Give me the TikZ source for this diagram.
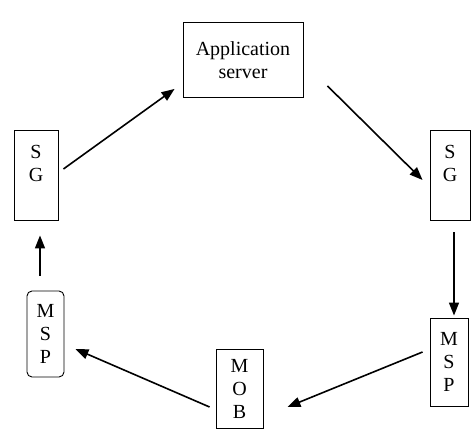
\documentclass[tikz,border=0pt]{standalone}
\usepackage{fontspec}
\setmainfont{Liberation Serif}
\usetikzlibrary{
    arrows.meta,
    positioning
}

\begin{document}
\begin{tikzpicture}[x=1pt,y=1pt,
    box/.style={draw,line width=0.9pt,align=center,inner sep=0pt,
        font=\fontsize{20}{23}\selectfont},
    roundbox/.style={box,rounded corners=5pt},
    arr/.style={line width=1.6pt,-{Triangle[length=13pt,width=10pt]}}]
    \useasboundingbox (0,0) rectangle (473,438);

    \node[box,minimum width=120,minimum height=75] (as) at (243,378) {Application\\server};

    \node[box,minimum width=44,minimum height=90] (sgl) at (36,263) {S\\G\\\mbox{}};
    \node[box,minimum width=40,minimum height=90] (sgr) at (450,263) {S\\G\\\mbox{}};

    \node[box,minimum width=38,minimum height=88] (mspr) at (449,76) {M\\S\\P};
    \node[box,minimum width=47,minimum height=79] (mob) at (239.5,49.5) {M\\O\\B};
    \node[roundbox,minimum width=37,minimum height=86] (mspl) at (45.5,104) {M\\S\\P};

    \draw[arr] ([shift={(5,6)}]sgl.east) -- ([shift={(-8,9)}]as.south west);
    \draw[arr] ([shift={(24,12)}]as.south east) -- ([shift={(-7,-5)}]sgr.west);
    \draw[arr] ([shift={(4,-12)}]sgr.south) -- ([shift={(5,2)}]mspr.north);
    \draw[arr] ([shift={(-7,10)}]mspr.west) -- ([shift={(24,-18.5)}]mob.east);
    \draw[arr] ([shift={(-6,-18.5)}]mob.west) -- ([shift={(11,-15)}]mspl.east);
    \draw[arr] ([shift={(-5.5,15)}]mspl.north) -- ([shift={(4,-15)}]sgl.south);
\end{tikzpicture}
\end{document}
